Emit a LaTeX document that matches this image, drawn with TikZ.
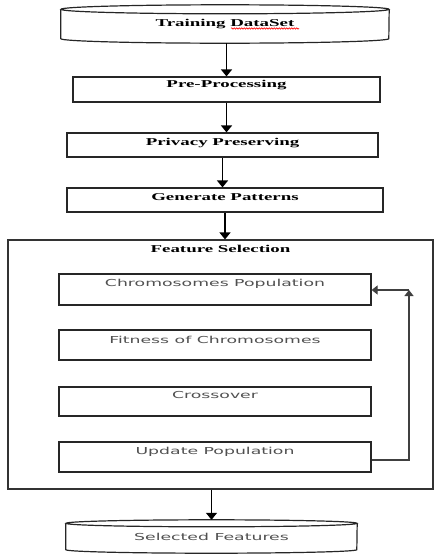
\documentclass[tikz,border=0pt]{standalone}
\usepackage{fontspec}
\usetikzlibrary{arrows.meta,calc,decorations.pathmorphing}
\newfontfamily\hdfont[FakeStretch=1.8]{Liberation Serif}
\newfontfamily\bdfont[FakeStretch=1.8]{DejaVu Sans}
\definecolor{txtgray}{HTML}{505050}
\begin{document}
\begin{tikzpicture}[x=1pt,y=-1pt,
  box/.style={draw=black!85, line width=1.2pt, inner sep=0pt},
  hd/.style={font=\hdfont\bfseries\fontsize{10.5}{12}\selectfont, inner sep=0pt},
  bd/.style={font=\bdfont\fontsize{9.6}{11}\selectfont, text=txtgray, inner sep=0pt},
  arr/.style={line width=1.5pt, -{Triangle[length=7pt,width=11pt]}},
  fbarr/.style={line width=1.2pt, draw=black!75, -{Triangle[length=6pt,width=9pt]}},
  cyl/.style={line width=1.2pt, draw=black!85},
  squig/.style={red, line width=0.6pt, decorate, decoration={snake, amplitude=0.7pt, segment length=2.5pt}}
]
\useasboundingbox (0,0) rectangle (436,557);

% Training DataSet cylinder
\node[hd, minimum width=328pt, minimum height=38pt] (train) at (225,24) {Training DataSet};
\draw[cyl] ([yshift=-4.5pt]train.north) ellipse [x radius=164, y radius=4.5];
\draw[cyl] ([yshift=-4.5pt]train.north west) -- ([yshift=4.5pt]train.south west)
  arc[start angle=180, end angle=0, x radius=164, y radius=4.5]
  -- ([yshift=-4.5pt]train.north east);
\draw[squig] ($(train.center)+(6,4.5)$) -- ($(train.center)+(74,4.5)$);

% upper boxes
\node[box, minimum width=307pt, minimum height=25pt,
  label={[hd,yshift=4.5pt]center:Pre-Processing}] (pre) at (226.5,89.5) {};
\node[box, minimum width=311pt, minimum height=24pt,
  label={[hd,yshift=2pt]center:Privacy Preserving}] (priv) at (222.5,145) {};
\node[box, minimum width=316pt, minimum height=24pt,
  label={[hd,yshift=3pt]center:Generate Patterns}] (gen) at (225,200) {};

% feature selection frame
\node[box, draw=black!80, minimum width=425pt, minimum height=249pt,
  label={[hd,yshift=115.5pt]center:Feature Selection}] (fs) at (220.5,364.5) {};

% inner boxes
\node[box, minimum width=312pt, minimum height=31pt,
  label={[bd,yshift=5.5pt]center:Chromosomes Population}] (chrom) at (215,289.5) {};
\node[box, minimum width=312pt, minimum height=30pt,
  label={[bd,yshift=5pt]center:Fitness of Chromosomes}] (fit) at (215,345) {};
\node[box, minimum width=312pt, minimum height=29pt,
  label={[bd,yshift=6.5pt]center:Crossover}] (cross) at (215,401.5) {};
\node[box, minimum width=312pt, minimum height=30pt,
  label={[bd,yshift=5pt]center:Update Population}] (upd) at (215,457) {};

% Selected Features cylinder
\node[bd, minimum width=291pt, minimum height=33pt] (sel) at (211.5,536.5) {Selected Features};
\draw[cyl] ([yshift=-3.5pt]sel.north) ellipse [x radius=145.5, y radius=3.5];
\draw[cyl] ([yshift=-3.5pt]sel.north west) -- ([yshift=3.5pt]sel.south west)
  arc[start angle=180, end angle=0, x radius=145.5, y radius=3.5]
  -- ([yshift=-3.5pt]sel.north east);

% main flow arrows
\draw[arr] (pre.north |- train.south) -- (pre.north);
\draw[arr] (pre.south) -- (pre.south |- priv.north);
\draw[arr] (priv.south) -- (priv.south |- gen.north);
\draw[arr] (gen.south) -- (gen.south |- fs.north);
\draw[arr] (fs.south -| sel.north) -- (sel.north);

% feedback loop
\coordinate (fb) at (409,290);
\draw[fbarr] ([yshift=-3pt]upd.east) -| (fb);
\draw[fbarr] (fb) -- (fb -| chrom.east);
\end{tikzpicture}
\end{document}
